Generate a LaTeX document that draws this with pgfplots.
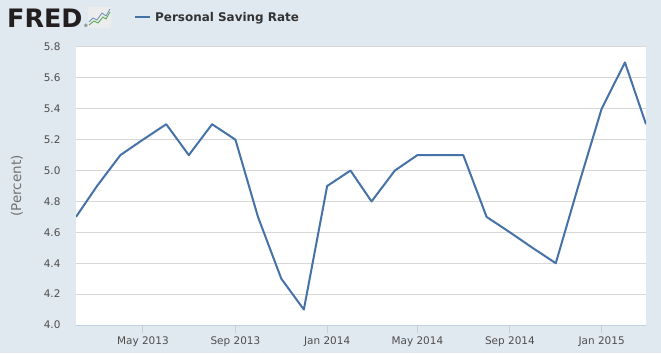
\documentclass[border=0pt]{standalone}
\usepackage{pgfplots}
\pgfplotsset{compat=1.18}
\usepackage{fontspec}
\setmainfont{DejaVu Sans}
\definecolor{bg}{HTML}{E1E9F0}
\definecolor{gridc}{HTML}{D8D8D8}
\definecolor{axc}{HTML}{C0D0E0}
\definecolor{linec}{HTML}{4572A7}
\definecolor{labc}{HTML}{4D4D4D}
\definecolor{titc}{HTML}{333333}
\begin{document}
\begin{tikzpicture}[x=1bp,y=1bp]
\fill[bg] (0,0) rectangle (661,353);
\begin{axis}[
  at={(76bp,28bp)}, anchor=south west,
  scale only axis, width=570bp, height=278bp,
  xmin=31, xmax=789, ymin=4.0, ymax=5.8,
  axis background/.style={fill=white},
  axis x line*=bottom, axis y line*=left,
  x axis line style={draw=axc, line width=1bp, -},
  y axis line style={draw=none},
  xtick={120,243,365,485,608,730},
  xticklabels={May 2013,Sep 2013,Jan 2014,May 2014,Sep 2014,Jan 2015},
  ytick={4.0,4.2,4.4,4.6,4.8,5.0,5.2,5.4,5.6,5.8},
  yticklabel={\pgfmathprintnumber[fixed,fixed zerofill,precision=1]{\tick}},
  /pgf/number format/assume math mode=true,
  ymajorgrids, grid style={draw=gridc, line width=1bp},
  tick align=outside,
  x tick style={draw=axc, line width=1bp},
  y tick style={draw=none},
  major tick length=8bp,
  tick label style={font=\fontsize{10.5}{12}\selectfont, text=labc},
  yticklabel style={xshift=-4bp},
  ylabel={(Percent)},
  ylabel style={at={(axis description cs:-0.1035,0.50)}, anchor=center, font=\fontsize{13.5}{15}\selectfont, text=labc!80},
  clip=true,
]
\addplot[linec, line width=2bp, line join=round] coordinates {
(31,4.7) (59,4.9) (90,5.1) (120,5.2) (151,5.3) (181,5.1) (212,5.3) (243,5.2)
(273,4.7) (304,4.3) (334,4.1) (365,4.9) (396,5.0) (424,4.8) (455,5.0) (485,5.1)
(516,5.1) (546,5.1) (577,4.7) (608,4.6) (638,4.5) (669,4.4) (699,4.9) (730,5.4)
(761,5.7) (789,5.3)
};
\end{axis}
% title area
\node[anchor=base west, inner sep=0pt, font=\fontsize{25.5}{26}\selectfont\bfseries, text={rgb,255:red,35;green,31;blue,32}] at (7,326) {FRED};
\node[anchor=base west, inner sep=0pt, font=\fontsize{4.5}{5}\selectfont, text={rgb,255:red,35;green,31;blue,32}] at (83.5,326) {®};
\fill[white!85!gray, rounded corners=1bp] (88,325) rectangle (111,346);
\draw[green!50!black!70, line width=0.8bp] (89,328) -- (94,332) -- (98,330) -- (103,336) -- (106,334) -- (110,341);
\draw[linec!80, line width=0.8bp] (89,331) -- (93,335) -- (97,333) -- (102,340) -- (106,337) -- (110,344);
\draw[linec, line width=2bp] (135,336) -- (150,336);
\node[anchor=west, inner sep=0pt, font=\fontsize{12}{14}\selectfont\bfseries, text=titc] at (155,335) {Personal Saving Rate};
\end{tikzpicture}
\end{document}
